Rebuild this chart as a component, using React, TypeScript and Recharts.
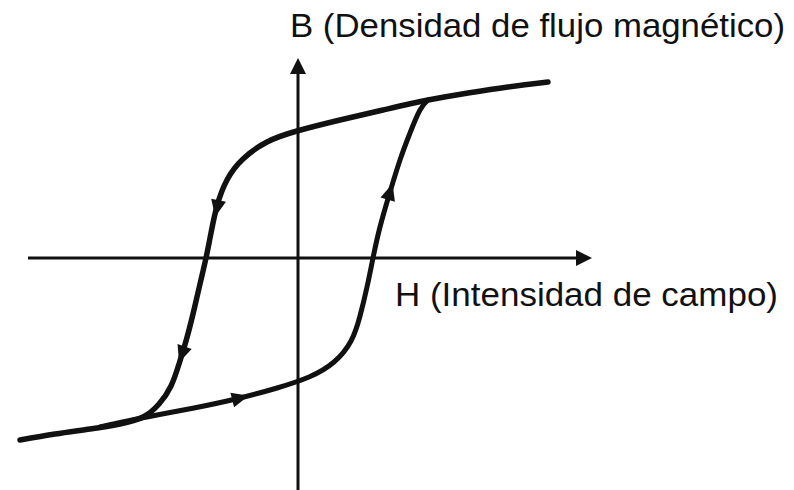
import React from 'react';
import { ComposedChart, Line, Scatter, XAxis, YAxis, ReferenceLine } from 'recharts';

// Hysteresis loop, H (field intensity) vs B (flux density), arbitrary units.
// Descending branch (coming back from positive saturation), ordered by H.
const descendingBranch = [
  { h: -27.7, b: -18.2 },
  { h: -24.2, b: -17.6 },
  { h: -20.7, b: -17.1 },
  { h: -17.7, b: -16.6 },
  { h: -15.4, b: -15.9 },
  { h: -13.8, b: -14.6 },
  { h: -12.6, b: -12.8 },
  { h: -11.8, b: -10.6 },
  { h: -11.1, b: -8.3 },
  { h: -10.4, b: -5.6 },
  { h: -9.7, b: -2.6 },
  { h: -9.1, b: 0 },
  { h: -8.6, b: 2.5 },
  { h: -8.0, b: 5.2 },
  { h: -7.0, b: 7.8 },
  { h: -5.4, b: 9.9 },
  { h: -3.0, b: 11.6 },
  { h: 0, b: 12.7 },
  { h: 4.3, b: 13.8 },
  { h: 8.6, b: 14.8 },
  { h: 13.1, b: 15.8 },
  { h: 17.1, b: 16.5 },
  { h: 21.1, b: 17.1 },
  { h: 25.1, b: 17.6 },
];

// Ascending branch (from negative saturation back up).
const ascendingBranch = [
  { h: -19.7, b: -16.9 },
  { h: -15.0, b: -15.9 },
  { h: -10.3, b: -15.0 },
  { h: -5.7, b: -14.0 },
  { h: -2.0, b: -13.0 },
  { h: 1.2, b: -11.9 },
  { h: 3.7, b: -10.4 },
  { h: 5.4, b: -8.3 },
  { h: 6.3, b: -5.8 },
  { h: 7.0, b: -2.9 },
  { h: 7.6, b: 0 },
  { h: 8.3, b: 3.1 },
  { h: 9.3, b: 6.6 },
  { h: 10.3, b: 9.8 },
  { h: 11.3, b: 12.5 },
  { h: 12.3, b: 14.8 },
  { h: 13.1, b: 15.8 },
];

// Direction-of-travel markers along the loop (dh, db = local direction).
const flowArrows = [
  { h: -8.0, b: 5.0, dh: -0.5, db: -2.5 },
  { h: -11.5, b: -9.6, dh: -0.8, db: -2.3 },
  { h: -5.7, b: -14.0, dh: 4, db: 1 },
  { h: 9.3, b: 6.6, dh: 2, db: 6.7 },
];

// Axis extents and their arrow tips.
const hAxisRange = [-26.9, 29.0];
const bAxisRange = [-23.2, 19.4];
const axisTips = [
  { h: 0.1, b: 20.0, dh: 0, db: 1 },
  { h: 29.5, b: 0, dh: 1, db: 0 },
];

const hDomain = [-29.7, 49.7];
const bDomain = [-23.2, 25.8];

const bTitle = 'B (Densidad de flujo magnético)';
const hTitle = 'H (Intensidad de campo)';

const W = 794;
const H = 490;
const INK = '#111';

const angleOf = (p: any) => (Math.atan2(-p.db, p.dh) * 180) / Math.PI;

const FlowArrow = (props: any) => {
  const { cx, cy, payload } = props;
  if (cx == null || cy == null) return null;
  return (
    <polygon
      points="-8,-7.5 9,0 -8,7.5"
      transform={`translate(${cx},${cy}) rotate(${angleOf(payload)})`}
      fill={INK}
    />
  );
};

const AxisTip = (props: any) => {
  const { cx, cy, payload } = props;
  if (cx == null || cy == null) return null;
  return (
    <polygon
      points="-16,-8 0,0 -16,8"
      transform={`translate(${cx},${cy}) rotate(${angleOf(payload)})`}
      fill={INK}
    />
  );
};

export default function App() {
  return (
    <div style={{ position: 'absolute', left: 0, top: 0, width: W, height: H, background: '#fff' }}>
      <ComposedChart width={W} height={H} margin={{ top: 0, right: 0, bottom: 0, left: 0 }}>
        <XAxis type="number" dataKey="h" domain={hDomain} hide allowDataOverflow />
        <YAxis type="number" dataKey="b" domain={bDomain} hide allowDataOverflow />
        <ReferenceLine
          segment={[{ x: hAxisRange[0], y: 0 }, { x: hAxisRange[1], y: 0 }]}
          stroke={INK}
          strokeWidth={3}
          ifOverflow="visible"
        />
        <ReferenceLine
          segment={[{ x: 0.1, y: bAxisRange[0] }, { x: 0.1, y: bAxisRange[1] }]}
          stroke={INK}
          strokeWidth={3}
          ifOverflow="visible"
        />
        <Line
          data={descendingBranch}
          dataKey="b"
          type="natural"
          stroke={INK}
          strokeWidth={5.5}
          strokeLinecap="round"
          dot={false}
          activeDot={false}
          isAnimationActive={false}
        />
        <Line
          data={ascendingBranch}
          dataKey="b"
          type="natural"
          stroke={INK}
          strokeWidth={5}
          strokeLinecap="round"
          dot={false}
          activeDot={false}
          isAnimationActive={false}
        />
        <Scatter data={flowArrows} dataKey="b" shape={FlowArrow} isAnimationActive={false} />
        <Scatter data={axisTips} dataKey="b" shape={AxisTip} isAnimationActive={false} />
      </ComposedChart>
      <svg
        width={W}
        height={H}
        style={{ position: 'absolute', left: 0, top: 0, pointerEvents: 'none' }}
      >
        <text
          x={290}
          y={37}
          fontFamily="Liberation Sans, Arial, sans-serif"
          fontSize={34}
          fill={INK}
          textLength={495}
          lengthAdjust="spacingAndGlyphs"
        >
          {bTitle}
        </text>
        <text
          x={395}
          y={306}
          fontFamily="Liberation Sans, Arial, sans-serif"
          fontSize={34}
          fill={INK}
          textLength={383}
          lengthAdjust="spacingAndGlyphs"
        >
          {hTitle}
        </text>
      </svg>
    </div>
  );
}
